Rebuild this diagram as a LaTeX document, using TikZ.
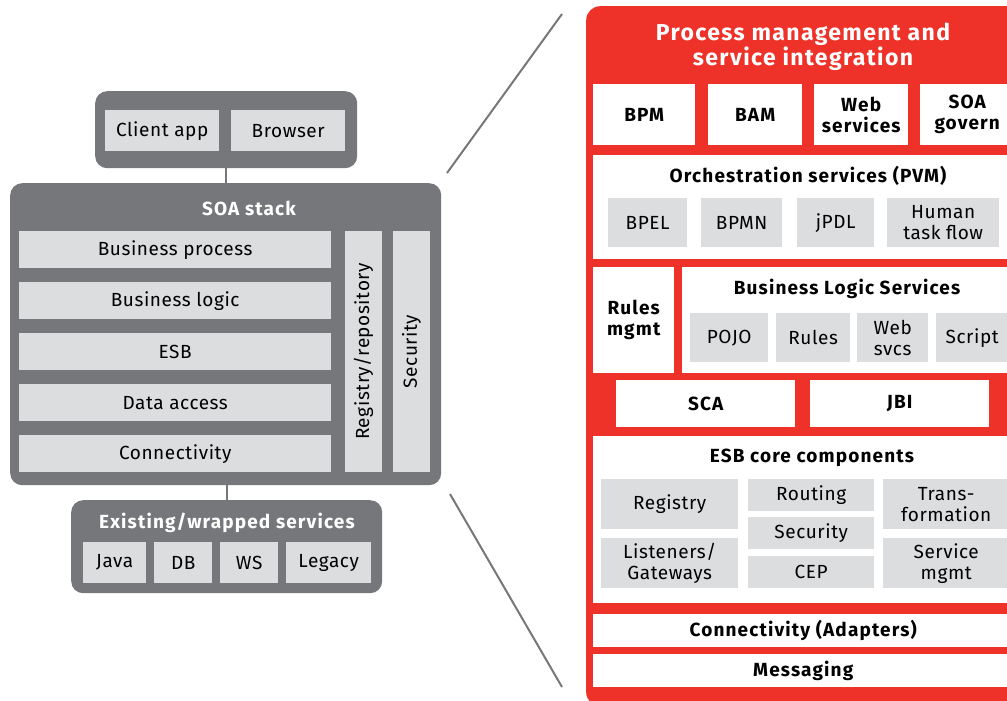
\documentclass[tikz,border=0pt]{standalone}
\usepackage{fontspec}
\setmainfont{Fira Sans}[LetterSpace=3, BoldFeatures={LetterSpace=6}]
\usetikzlibrary{positioning}
\definecolor{soagray}{HTML}{76777A}
\definecolor{soalight}{HTML}{DCDDDF}
\definecolor{soared}{HTML}{EE3129}
\newcommand{\txt}{\fontsize{19}{21}\selectfont}
\newcommand{\btxt}{\fontsize{19}{21}\selectfont\bfseries}
\tikzset{
  grp/.style={fill=soagray, rounded corners=12pt, anchor=north west, inner sep=0pt},
  redgrp/.style={fill=soared, rounded corners=14pt, anchor=north west, inner sep=0pt},
  cell/.style={fill=soalight, anchor=north west, inner sep=0pt, align=center, font=\txt},
  wbox/.style={fill=white, anchor=north west, inner sep=0pt, align=center, font=\btxt},
  wttl/.style={text=white, font=\btxt, inner sep=0pt},
  bttl/.style={font=\btxt, inner sep=0pt},
  link/.style={draw=soagray, line width=2pt},
}
\begin{document}
\begin{tikzpicture}[x=1pt, y=-1pt]
\useasboundingbox (0,0) rectangle (1007,701);

% left: SOA stack
\node[grp, minimum width=262pt, minimum height=77pt] (clientgrp) at (95,91) {};
\node[cell, minimum width=114pt, minimum height=41pt] (clientapp) at (105,110) {Client app};
\node[cell, minimum width=114pt, minimum height=41pt] (browser) at (231,110) {Browser};

\node[grp, minimum width=431pt, minimum height=302pt] (soagrp) at (10,183) {};
\node[wttl] (soattl) at (249,208) {SOA stack};
\node[cell, minimum width=312pt, minimum height=37pt] (bproc) at (19,231) {Business process};
\node[cell, minimum width=312pt, minimum height=37pt] (blogic) at (19,282) {Business logic};
\node[cell, minimum width=312pt, minimum height=37pt] (esb) at (19,333) {ESB};
\node[cell, minimum width=312pt, minimum height=37pt] (dacc) at (19,384) {Data access};
\node[cell, minimum width=312pt, minimum height=37pt] (conn) at (19,435) {Connectivity};
\node[cell, anchor=center, rotate=90, minimum width=241pt, minimum height=37pt] (regrepo) at (363.5,351.5) {Registry/repository};
\node[cell, anchor=center, rotate=90, minimum width=241pt, minimum height=37pt] (secur) at (411.5,351.5) {Security};

\node[grp, minimum width=311pt, minimum height=93pt] (existgrp) at (71,500) {};
\node[wttl] (existttl) at (227,523) {Existing/wrapped services};
\node[cell, minimum width=63pt, minimum height=41pt] (java) at (83,542) {Java};
\node[cell, minimum width=58pt, minimum height=41pt] (db) at (154,542) {DB};
\node[cell, minimum width=58pt, minimum height=41pt] (ws) at (220,542) {WS};
\node[cell, minimum width=85pt, minimum height=41pt] (legacy) at (286,542) {Legacy};

\draw[link] (clientgrp.south) -- (clientgrp.south |- soagrp.north);
\draw[link] (soagrp.south -| existgrp.north) -- (existgrp.north);

% zoom lines
\coordinate (zoomtl) at (447,173);
\coordinate (zoomtr) at (562,14);
\coordinate (zoombl) at (450,494);
\coordinate (zoombr) at (562,687);
\draw[link] (zoomtl) -- (zoomtr);
\draw[link] (zoombl) -- (zoombr);

% right: process management
\node[redgrp, minimum width=440pt, minimum height=700pt] (pmgrp) at (586,6) {};
\node[wttl, align=center, font=\fontsize{23}{25}\selectfont\bfseries] (pmttl) at (803,47) {Process management and\\service integration};

\node[wbox, minimum width=102pt, minimum height=61pt] (bpm) at (593,84) {BPM};
\node[wbox, minimum width=94pt, minimum height=61pt] (bam) at (708,84) {BAM};
\node[wbox, minimum width=94pt, minimum height=61pt] (websrv) at (814,84) {Web\\services};
\node[wbox, minimum width=94pt, minimum height=61pt] (soagov) at (920,84) {SOA\\govern};

\node[wbox, minimum width=430pt, minimum height=104pt] (orch) at (593,155) {};
\node[bttl] (orchttl) at (808,176) {Orchestration services (PVM)};
\node[cell, minimum width=79pt, minimum height=49pt] (bpel) at (608,198) {BPEL};
\node[cell, minimum width=81pt, minimum height=49pt] (bpmn) at (701,198) {BPMN};
\node[cell, minimum width=77pt, minimum height=49pt] (jpdl) at (797,198) {jPDL};
\node[cell, minimum width=112pt, minimum height=49pt] (human) at (887,198) {Human\\task flow};

\node[wbox, minimum width=81pt, minimum height=106pt] (rulesm) at (593,267) {Rules\\mgmt};
\node[wbox, minimum width=340pt, minimum height=106pt] (bls) at (682,267) {};
\node[bttl] (blsttl) at (847,289) {Business Logic Services};
\node[cell, minimum width=78pt, minimum height=49pt] (pojo) at (690,313) {POJO};
\node[cell, minimum width=74pt, minimum height=49pt] (rules) at (776,313) {Rules};
\node[cell, minimum width=71pt, minimum height=49pt] (websvcs) at (857,313) {Web\\svcs};
\node[cell, minimum width=72pt, minimum height=49pt] (script) at (936,313) {Script};

\node[wbox, minimum width=179pt, minimum height=47pt] (sca) at (616,380) {SCA};
\node[wbox, minimum width=179pt, minimum height=47pt] (jbi) at (810,380) {JBI};

\node[wbox, minimum width=430pt, minimum height=167pt] (esbcore) at (593,436) {};
\node[bttl] (esbttl) at (812,458) {ESB core components};
\node[cell, minimum width=137pt, minimum height=50pt] (registry) at (601,479) {Registry};
\node[cell, minimum width=137pt, minimum height=50pt] (listen) at (601,538) {Listeners/\\Gateways};
\node[cell, minimum width=126pt, minimum height=32pt] (routing) at (748,479) {Routing};
\node[cell, minimum width=126pt, minimum height=32pt] (esbsec) at (748,517) {Security};
\node[cell, minimum width=126pt, minimum height=32pt] (cep) at (748,556) {CEP};
\node[cell, minimum width=126pt, minimum height=50pt] (transf) at (883,479) {Trans-\\formation};
\node[cell, minimum width=126pt, minimum height=50pt] (svcmgmt) at (883,538) {Service\\mgmt};

\node[wbox, minimum width=420pt, minimum height=33pt] (adapters) at (593,614) {Connectivity (Adapters)};
\node[wbox, minimum width=420pt, minimum height=33pt] (messaging) at (593,654) {Messaging};

\end{tikzpicture}
\end{document}
